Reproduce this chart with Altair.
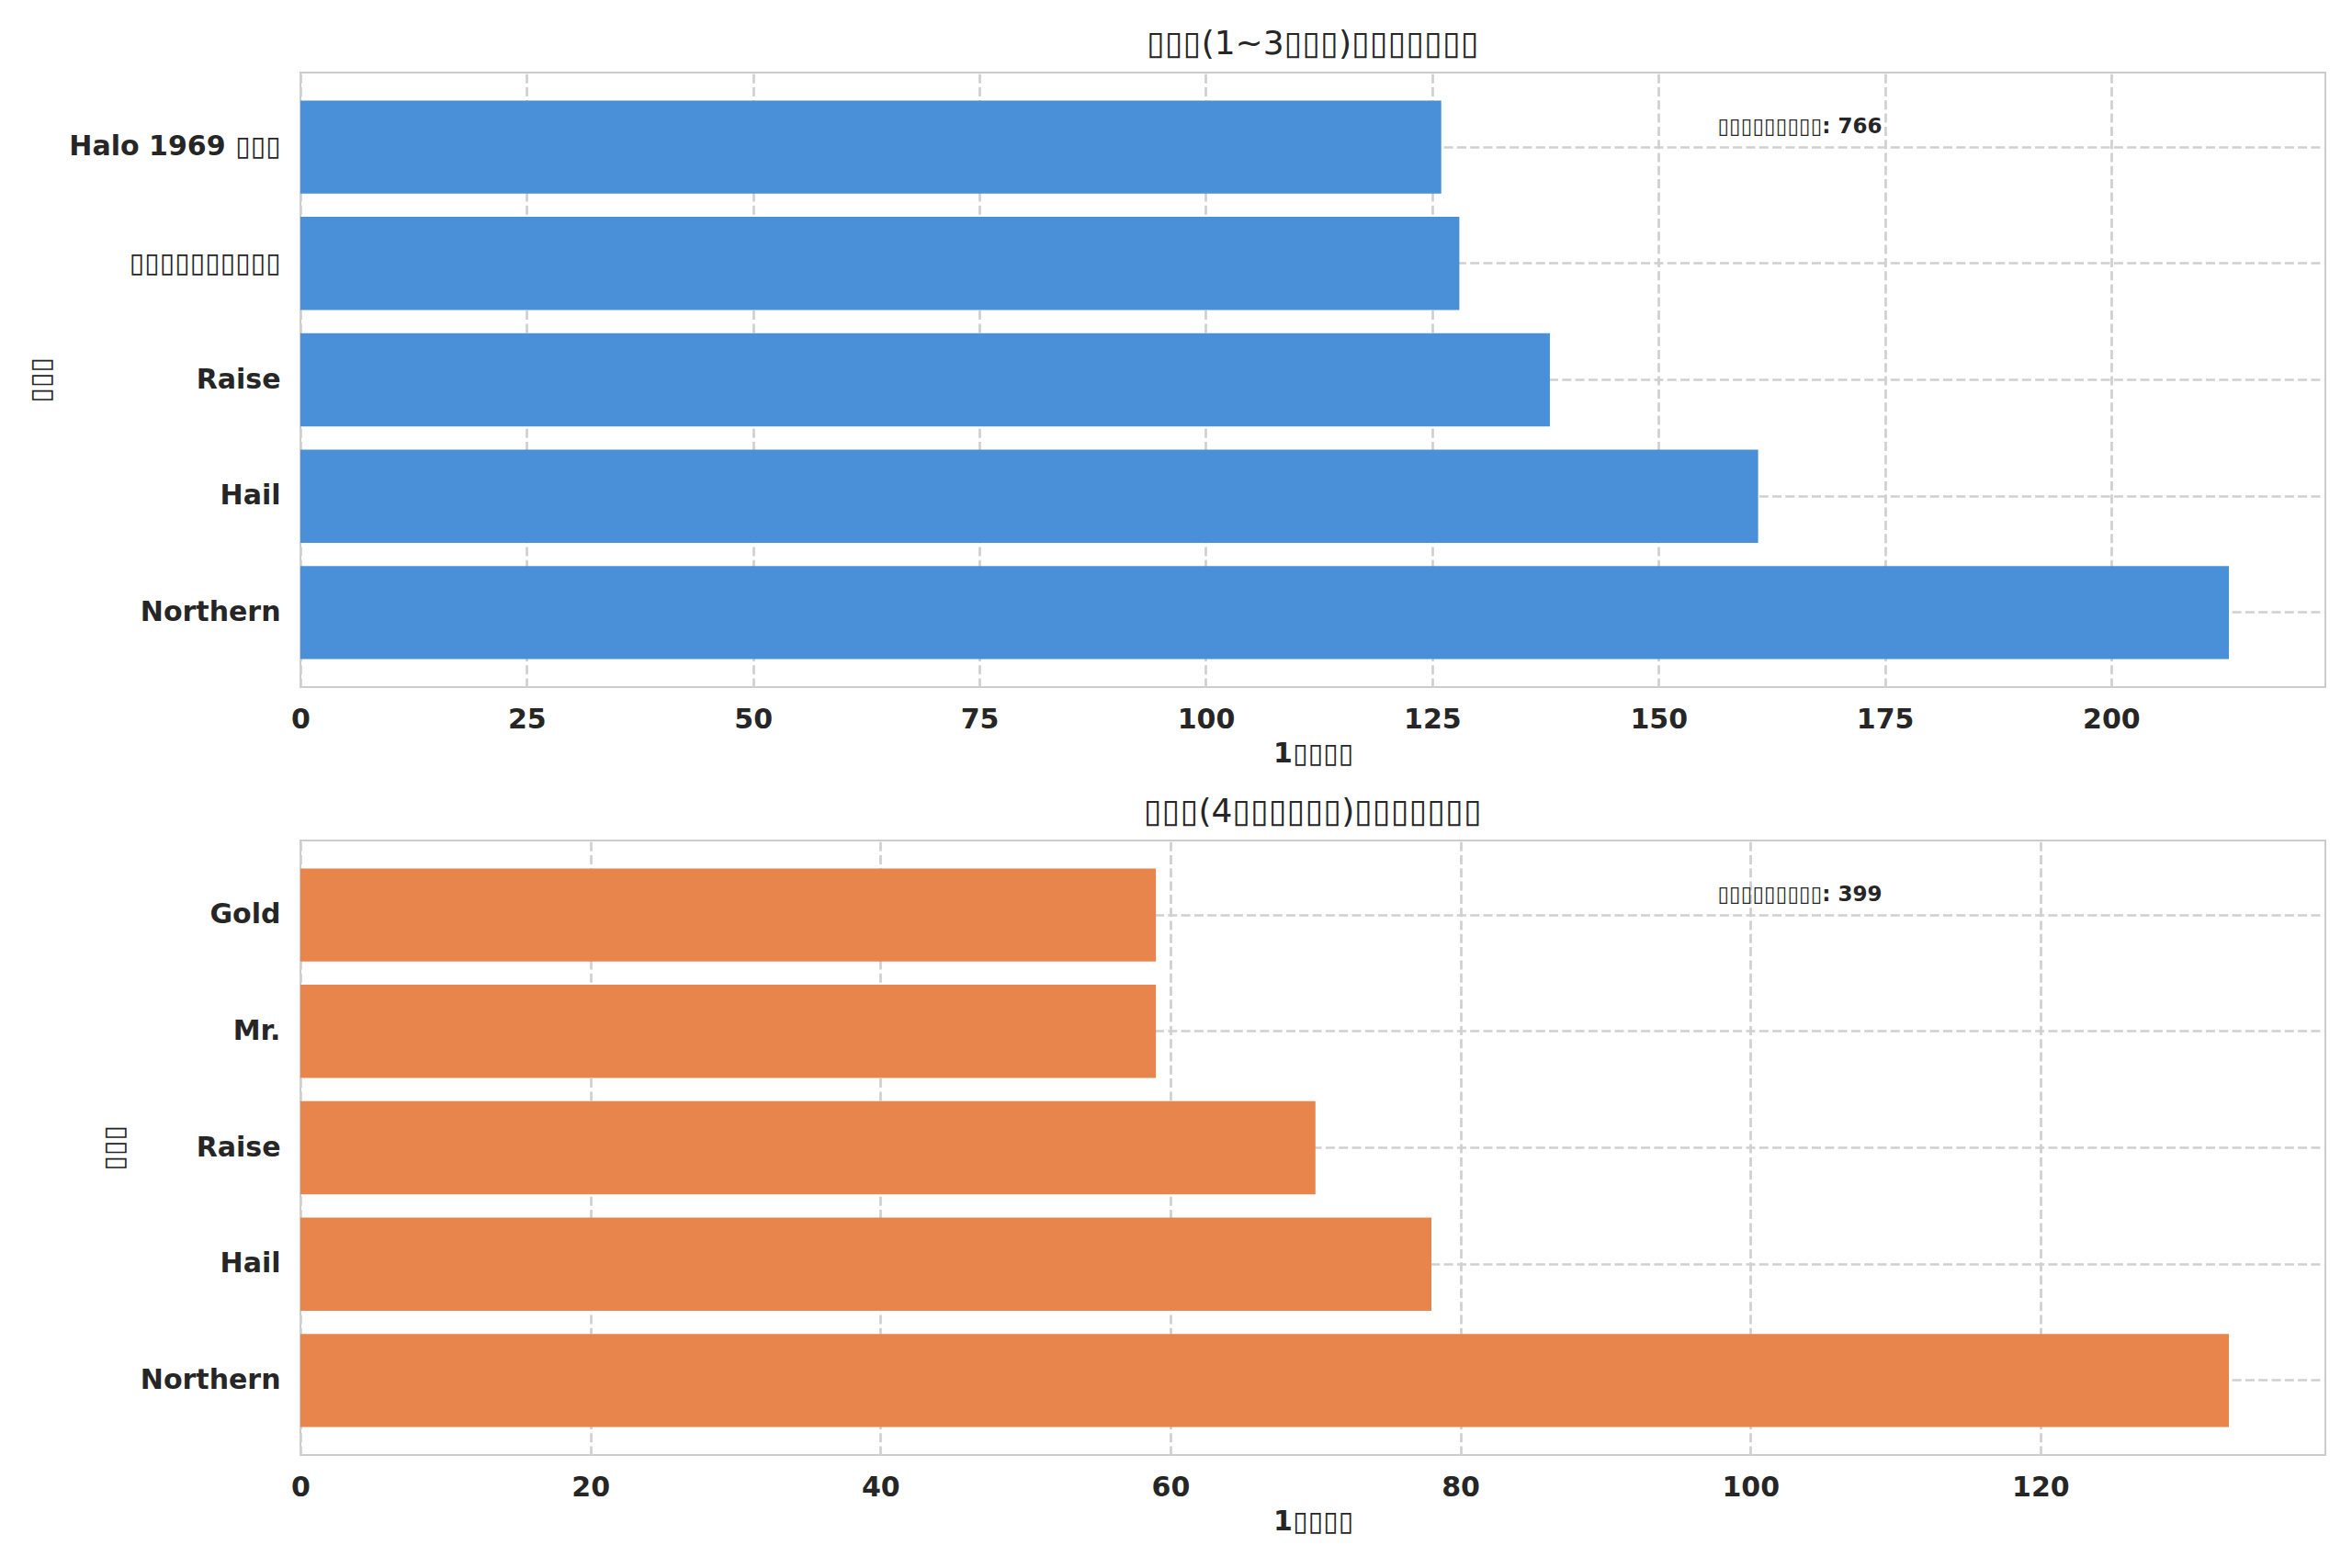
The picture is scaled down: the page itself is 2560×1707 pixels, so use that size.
import altair as alt
import pandas as pd

B = "\u25AF"  # box glyph standing in for the unreadable characters of the source

# ---- data ----
top_cats = ["Halo 1969 " + B * 3, B * 10, "Raise", "Hail", "Northern"]
top_vals = [126, 128, 138, 161, 213]
bot_cats = ["Gold", "Mr.", "Raise", "Hail", "Northern"]
bot_vals = [59, 59, 70, 78, 133]
top_ticks = [0, 25, 50, 75, 100, 125, 150, 175, 200]
bot_ticks = [0, 20, 40, 60, 80, 100, 120]

title_top = B * 3 + "(1~3" + B * 3 + ")" + B * 7
title_bot = B * 3 + "(4" + B * 6 + ")" + B * 7
x_title = "1" + B * 4
y_title = B * 3
note_prefix = B * 9 + ": "

TOP_COLOR = "#4A90D9"
BOT_COLOR = "#E8854C"
TXT = "#262626"
FONT = "DejaVu Sans"
W, H = 2204, 669


def panel(cats, vals, ticks, color, title, ytitle_x):
    df = pd.DataFrame({"cat": cats, "val": vals})
    xmax = max(vals) * 1.05
    bars = alt.Chart(df).mark_bar(color=color).encode(
        x=alt.X(
            "val:Q",
            scale=alt.Scale(domain=[0, xmax], nice=False, zero=True),
            axis=alt.Axis(values=ticks, title=x_title, titleFontWeight="bold",
                          labelPadding=20, titlePadding=7, format="d",
                          labelFlush=False),
        ),
        y=alt.Y(
            "cat:N",
            sort=cats,
            scale=alt.Scale(paddingInner=0.2, paddingOuter=0.24),
            axis=alt.Axis(title=y_title, titleFontWeight="normal", labelLimit=0,
                          bandPosition=0.5, labelPadding=22,
                          titleX=ytitle_x, titleY=H / 2),
        ),
    )
    note_df = pd.DataFrame({"t": [note_prefix + str(sum(vals))]})
    note = alt.Chart(note_df).mark_text(
        font=FONT, fontSize=23, fontWeight="bold", color=TXT,
        align="center", baseline="middle",
    ).encode(x=alt.value(1632), y=alt.value(59), text="t:N")
    return alt.layer(bars, note).properties(
        width=W, height=H,
        title=alt.TitleParams(title, font=FONT, fontSize=36, fontWeight="normal",
                              color=TXT, offset=12, anchor="middle"),
    )


p1 = panel(top_cats, top_vals, top_ticks, TOP_COLOR, title_top, -268)
p2 = panel(bot_cats, bot_vals, bot_ticks, BOT_COLOR, title_bot, -188)

chart = alt.vconcat(p1, p2, spacing=29).properties(
    background="white",
    padding={"left": 20, "top": 21, "right": 10, "bottom": 10},
).configure_view(
    stroke="#cccccc", strokeWidth=2
).configure_axis(
    grid=True,
    gridColor="#d0d0d0",
    gridWidth=2.7,
    gridDash=[10, 4.3],
    domain=False,
    ticks=False,
    labelFont=FONT,
    labelFontSize=30,
    labelFontWeight="bold",
    labelColor=TXT,
    titleFont=FONT,
    titleFontSize=30,
    titleColor=TXT,
)

chart.save("out.html", embed_options={"renderer": "svg", "actions": False})
